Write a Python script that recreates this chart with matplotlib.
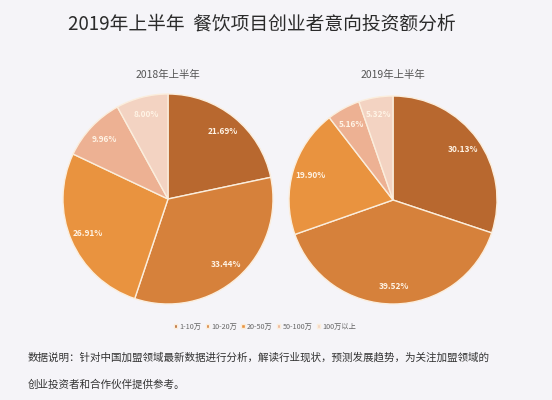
import matplotlib.pyplot as plt

plt.rcParams['font.family'] = ['Noto Sans CJK SC', 'DejaVu Sans']

categories = ['1-10万', '10-20万', '20-50万', '50-100万', '100万以上']
share_2018 = [21.69, 33.44, 26.91, 9.96, 8.00]
share_2019 = [30.13, 39.52, 19.90, 5.16, 5.32]
colors = ['#B8682F', '#D6813B', '#E9933F', '#EDB193', '#F3D3C2']
bg = '#F5F4F8'

fig = plt.figure(figsize=(5.52, 4), dpi=100, facecolor=bg)

fig.text(0.474, 1 - 24 / 400, '2019年上半年  餐饮项目创业者意向投资额分析',
         ha='center', va='center', fontsize=13.5, color='#2b2b2b')


def draw_pie(cx, cy, r, values, title):
    # cx, cy, r in pixels (y from top)
    ax = fig.add_axes([(cx - r) / 552, (400 - cy - r) / 400, 2 * r / 552, 2 * r / 400])
    ax.set_facecolor(bg)
    labels = iter([f'{v:.2f}%' for v in values])
    wedges, texts, autotexts = ax.pie(
        values, colors=colors, startangle=90, counterclock=False,
        autopct=lambda p: next(labels), pctdistance=0.83,
        wedgeprops=dict(edgecolor='#FBEEDD', linewidth=1.0),
        textprops=dict(color='#FFF4E6', fontsize=6, fontweight='bold'))
    ax.set_xlim(-1.0, 1.0)
    ax.set_ylim(-1.0, 1.0)
    ax.set_aspect('equal')
    ax.axis('off')
    fig.text(cx / 552, 1 - 75 / 400, title, ha='center', va='center',
             fontsize=7.5, color='#555555')
    return wedges


wedges = draw_pie(168, 199, 105, share_2018, '2018年上半年')
draw_pie(393, 200, 104, share_2019, '2019年上半年')

leg = fig.legend(wedges, categories, loc='center', bbox_to_anchor=(0.48, 1 - 327 / 400),
                 ncol=5, frameon=False, fontsize=5.2, handlelength=0.45, handleheight=0.45,
                 handletextpad=0.3, columnspacing=0.6)
for t in leg.get_texts():
    t.set_color('#666666')

fig.text(28 / 552, 1 - 357 / 400,
         '数据说明：针对中国加盟领域最新数据进行分析，解读行业现状，预测发展趋势，为关注加盟领域的',
         ha='left', va='center', fontsize=7.6, color='#333333')
fig.text(28 / 552, 1 - 385 / 400, '创业投资者和合作伙伴提供参考。',
         ha='left', va='center', fontsize=7.6, color='#333333')

fig.savefig('out.png', dpi=100, facecolor=bg)
